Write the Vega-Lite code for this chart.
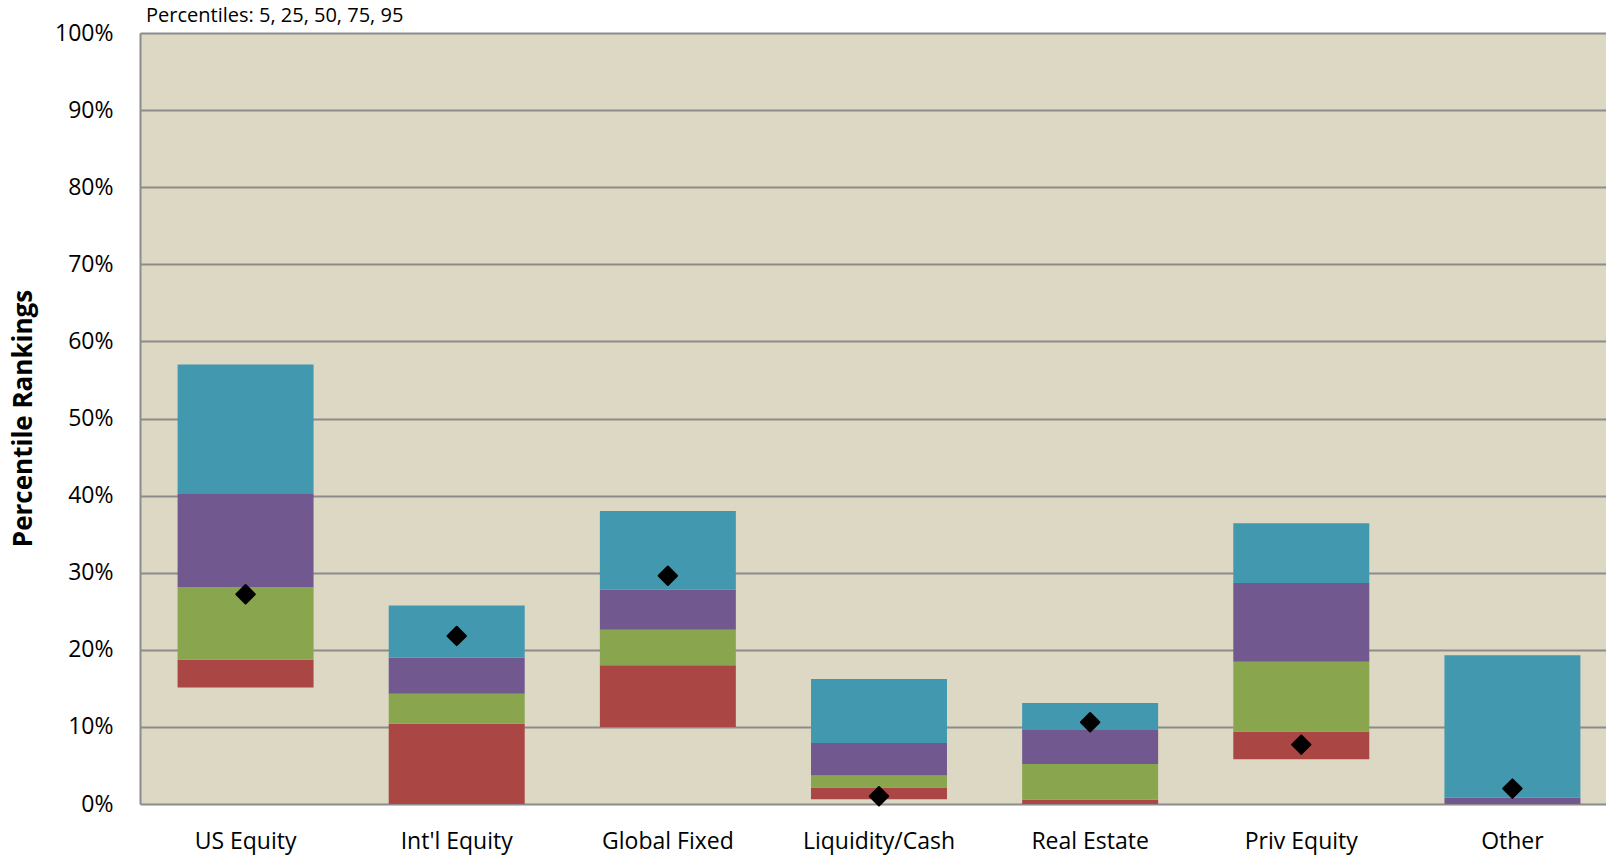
{
  "$schema": "https://vega.github.io/schema/vega-lite/v6.json",
  "autosize": "none",
  "width": 1466,
  "height": 771,
  "padding": {"left": 140, "top": 33, "right": 0, "bottom": 53},
  "background": "white",
  "config": {
    "font": "Open Sans",
    "view": {"fill": "#DCD8C4", "stroke": null}
  },
  "title": {
    "text": "Percentiles: 5, 25, 50, 75, 95",
    "anchor": "start",
    "frame": "group",
    "fontSize": 20,
    "fontWeight": "normal",
    "color": "black",
    "dx": 6,
    "dy": 20,
    "offset": 0,
    "baseline": "alphabetic"
  },
  "datasets": {
    "segments": [
      {"category": "US Equity", "band": "5-25", "lo": 0.151, "hi": 0.187},
      {"category": "US Equity", "band": "25-50", "lo": 0.187, "hi": 0.281},
      {"category": "US Equity", "band": "50-75", "lo": 0.281, "hi": 0.403},
      {"category": "US Equity", "band": "75-95", "lo": 0.403, "hi": 0.570},
      {"category": "Int'l Equity", "band": "5-25", "lo": 0.0, "hi": 0.104},
      {"category": "Int'l Equity", "band": "25-50", "lo": 0.104, "hi": 0.143},
      {"category": "Int'l Equity", "band": "50-75", "lo": 0.143, "hi": 0.190},
      {"category": "Int'l Equity", "band": "75-95", "lo": 0.190, "hi": 0.2575},
      {"category": "Global Fixed", "band": "5-25", "lo": 0.100, "hi": 0.180},
      {"category": "Global Fixed", "band": "25-50", "lo": 0.180, "hi": 0.226},
      {"category": "Global Fixed", "band": "50-75", "lo": 0.226, "hi": 0.278},
      {"category": "Global Fixed", "band": "75-95", "lo": 0.278, "hi": 0.380},
      {"category": "Liquidity/Cash", "band": "5-25", "lo": 0.006, "hi": 0.0215},
      {"category": "Liquidity/Cash", "band": "25-50", "lo": 0.0215, "hi": 0.037},
      {"category": "Liquidity/Cash", "band": "50-75", "lo": 0.037, "hi": 0.079},
      {"category": "Liquidity/Cash", "band": "75-95", "lo": 0.079, "hi": 0.162},
      {"category": "Real Estate", "band": "5-25", "lo": 0.0, "hi": 0.0055},
      {"category": "Real Estate", "band": "25-50", "lo": 0.0055, "hi": 0.052},
      {"category": "Real Estate", "band": "50-75", "lo": 0.052, "hi": 0.097},
      {"category": "Real Estate", "band": "75-95", "lo": 0.097, "hi": 0.131},
      {"category": "Priv Equity", "band": "5-25", "lo": 0.058, "hi": 0.094},
      {"category": "Priv Equity", "band": "25-50", "lo": 0.094, "hi": 0.1845},
      {"category": "Priv Equity", "band": "50-75", "lo": 0.1845, "hi": 0.2865},
      {"category": "Priv Equity", "band": "75-95", "lo": 0.2865, "hi": 0.364},
      {"category": "Other", "band": "5-25", "lo": 0.0, "hi": 0.0},
      {"category": "Other", "band": "25-50", "lo": 0.0, "hi": 0.0},
      {"category": "Other", "band": "50-75", "lo": 0.0, "hi": 0.0085},
      {"category": "Other", "band": "75-95", "lo": 0.0085, "hi": 0.193}
    ],
    "points": [
      {"category": "US Equity", "value": 0.272},
      {"category": "Int'l Equity", "value": 0.218},
      {"category": "Global Fixed", "value": 0.296},
      {"category": "Liquidity/Cash", "value": 0.010},
      {"category": "Real Estate", "value": 0.106},
      {"category": "Priv Equity", "value": 0.077},
      {"category": "Other", "value": 0.020}
    ]
  },
  "layer": [
    {
      "data": {"name": "segments"},
      "mark": {"type": "bar"},
      "encoding": {
        "x": {
          "field": "category",
          "type": "nominal",
          "sort": ["US Equity", "Int'l Equity", "Global Fixed", "Liquidity/Cash", "Real Estate", "Priv Equity", "Other"],
          "scale": {"range": [0, 1478], "paddingInner": 0.356, "paddingOuter": 0.178},
          "axis": {
            "title": null,
            "labelAngle": 0,
            "ticks": false,
            "domain": false,
            "labelFontSize": 23,
            "labelColor": "black",
            "labelPadding": 26
          }
        },
        "y": {
          "field": "lo",
          "type": "quantitative",
          "scale": {"domain": [0, 1], "nice": false},
          "axis": {
            "format": ".0%",
            "values": [0, 0.1, 0.2, 0.3, 0.4, 0.5, 0.6, 0.7, 0.8, 0.9, 1],
            "grid": true,
            "gridColor": "#8C8C8C",
            "gridWidth": 2,
            "gridOpacity": 1,
            "domain": true,
            "domainColor": "#8C8C8C",
            "domainWidth": 2,
            "ticks": false,
            "labelFontSize": 23,
            "labelColor": "black",
            "labelPadding": 27,
            "title": "Percentile Rankings",
            "titleFontSize": 26,
            "titleFontWeight": "bold",
            "titleColor": "black",
            "titleAngle": 270,
            "titleX": -117,
            "titleY": 385,
            "titleAlign": "center",
            "titleBaseline": "middle"
          }
        },
        "y2": {"field": "hi"},
        "color": {
          "field": "band",
          "type": "nominal",
          "scale": {
            "domain": ["5-25", "25-50", "50-75", "75-95"],
            "range": ["#AA4643", "#89A54E", "#71588F", "#4198AF"]
          },
          "legend": null
        }
      }
    },
    {
      "data": {"name": "points"},
      "mark": {
        "type": "point",
        "shape": "diamond",
        "filled": true,
        "color": "black",
        "size": 340,
        "stroke": "black",
        "strokeWidth": 2,
        "strokeJoin": "round",
        "opacity": 1
      },
      "encoding": {
        "x": {"field": "category", "type": "nominal", "sort": ["US Equity", "Int'l Equity", "Global Fixed", "Liquidity/Cash", "Real Estate", "Priv Equity", "Other"]},
        "y": {"field": "value", "type": "quantitative"}
      }
    }
  ]
}
